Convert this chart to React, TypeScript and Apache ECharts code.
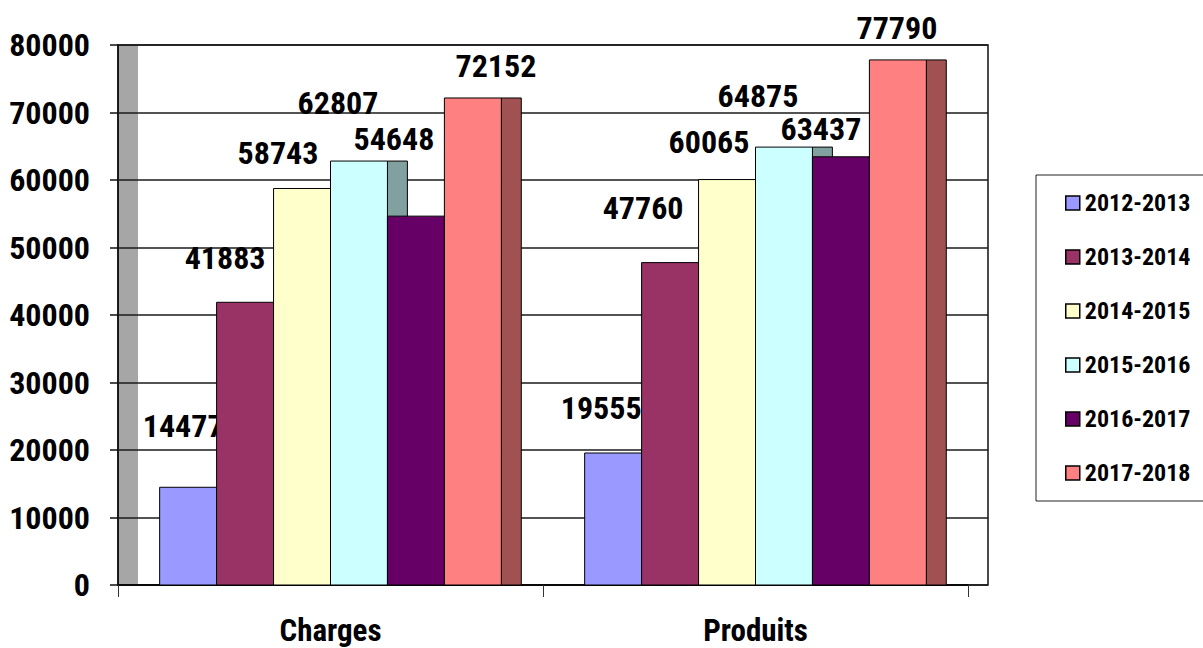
import React, { useEffect, useRef } from "react";
import * as echarts from "echarts";

const categories = ["Charges", "Produits"];
const seriesNames = ["2012-2013", "2013-2014", "2014-2015", "2015-2016", "2016-2017", "2017-2018"];
const chargesValues = [14477, 41883, 58743, 62807, 54648, 72152];
const produitsValues = [19555, 47760, 60065, 64875, 63437, 77790];
const yMin = 0;
const yMax = 80000;
const yInterval = 10000;

const colors = ["#9999ff", "#993366", "#ffffcc", "#ccffff", "#660066", "#ff8080"];
// label placement (px offsets from each bar's front top centre), per series, per category
const labelDx = [[-5, -12], [-20, -27], [-24, -18], [-21, -26], [-22, -20], [23, -1]];
const labelDy = [[61, 45], [44, 55], [35, 38], [58, 51], [77, 28], [32, 32]];

const FONT = "'Liberation Sans Narrow', 'Arial Narrow', 'Roboto Condensed', sans-serif";

const GRID_LEFT = 118;
const GRID_TOP = 45;
const GRID_BOTTOM = 63;
const WALL_RIGHT = 215;
const BARS_RIGHT = 235;

function darken(hex: string, f: number): string {
  const n = parseInt(hex.slice(1), 16);
  const r = Math.round(((n >> 16) & 255) * f);
  const g = Math.round(((n >> 8) & 255) * f);
  const b = Math.round((n & 255) * f);
  return "rgb(" + r + "," + g + "," + b + ")";
}

export default function App() {
  const ref = useRef<HTMLDivElement>(null);
  useEffect(() => {
    if (!ref.current) return;
    const chart = echarts.init(ref.current, null, { renderer: "svg" });
    const barSeries = seriesNames.map((name, sIdx) => ({
      type: "custom",
      name,
      xAxisIndex: 1,
      yAxisIndex: 1,
      z: 3,
      itemStyle: { color: colors[sIdx] },
      encode: { x: 0, y: 1 },
      data: [
        [0, chargesValues[sIdx]],
        [1, produitsValues[sIdx]],
      ],
      renderItem: (params: any, api: any) => {
        const cat = api.value(0);
        const val = api.value(1);
        const top = api.coord([cat, val]);
        const base = api.coord([cat, 0]);
        const band = api.size([1, 0])[0];
        const barW = band * 0.134;
        const total = barW * seriesNames.length;
        const x = top[0] - total / 2 + sIdx * barW;
        const sideW = barW * 0.35;
        const h = base[1] - top[1];
        return {
          type: "group",
          children: [
            {
              type: "rect",
              shape: { x: x + barW, y: top[1], width: sideW, height: h },
              style: { fill: darken(colors[sIdx], 0.63), stroke: "#000", lineWidth: 1 },
            },
            {
              type: "rect",
              shape: { x, y: top[1], width: barW, height: h },
              style: { fill: colors[sIdx], stroke: "#000", lineWidth: 1 },
            },
            {
              type: "text",
              x: x + barW / 2 + labelDx[sIdx][cat],
              y: top[1] - labelDy[sIdx][cat],
              style: {
                text: String(val),
                fill: "#000",
                fontSize: 32,
                fontWeight: "bold",
                fontFamily: FONT,
                align: "center",
                verticalAlign: "middle",
              },
            },
          ],
        };
      },
    }));

    const wallSeries = {
      type: "custom",
      name: "wall",
      xAxisIndex: 0,
      yAxisIndex: 0,
      z: -1,
      silent: true,
      data: [[0, yMax]],
      renderItem: (params: any, api: any) => {
        const cs = params.coordSys;
        return {
          type: "rect",
          shape: { x: cs.x, y: cs.y, width: 20, height: cs.height },
          style: { fill: "#a6a6a6" },
        };
      },
    };

    chart.setOption({
      animation: false,
      backgroundColor: "#fff",
      grid: [
        {
          left: GRID_LEFT,
          right: WALL_RIGHT,
          top: GRID_TOP,
          bottom: GRID_BOTTOM,
          show: true,
          borderColor: "#111",
          borderWidth: 1.5,
          backgroundColor: "transparent",
        },
        { left: GRID_LEFT, right: BARS_RIGHT, top: GRID_TOP, bottom: GRID_BOTTOM },
      ],
      xAxis: [
        { gridIndex: 0, type: "value", show: false, min: 0, max: 1 },
        {
          gridIndex: 1,
          type: "category",
          data: categories,
          axisLine: { show: true, lineStyle: { color: "#000", width: 1.5 } },
          axisTick: { show: true, alignWithLabel: false, length: 12, lineStyle: { color: "#333", width: 1 } },
          axisLabel: {
            fontSize: 31,
            fontWeight: "bold",
            fontFamily: FONT,
            color: "#000",
            margin: 30,
          },
          splitLine: { show: false },
        },
      ],
      yAxis: [
        {
          gridIndex: 0,
          type: "value",
          min: yMin,
          max: yMax,
          interval: yInterval,
          axisLine: { show: true, lineStyle: { color: "#111", width: 1.5 } },
          axisTick: { show: true, length: 8, lineStyle: { color: "#111", width: 1.5 } },
          axisLabel: {
            fontSize: 32,
            fontWeight: "bold",
            fontFamily: FONT,
            color: "#000",
            margin: 28,
            formatter: (v: number) => String(v),
          },
          splitLine: { show: true, lineStyle: { color: "#1a1a1a", width: 1.5 } },
        },
        { gridIndex: 1, type: "value", min: yMin, max: yMax, interval: yInterval, show: false, splitLine: { show: false } },
      ],
      legend: {
        orient: "vertical",
        left: 1036,
        top: 175,
        padding: [15, 40, 15, 29],
        itemGap: 28,
        itemWidth: 14,
        itemHeight: 14,
        borderColor: "#222",
        borderWidth: 1,
        textStyle: { fontSize: 24, fontWeight: "bold", fontFamily: FONT, color: "#000", lineHeight: 26 },
        data: seriesNames.map((n, i) => ({
          name: n,
          icon: "rect",
          itemStyle: { color: colors[i], borderColor: "#000", borderWidth: 1.5 },
        })),
      },
      series: [wallSeries, ...barSeries],
    });
    return () => chart.dispose();
  }, []);
  return (
    <div
      ref={ref}
      style={{ position: "fixed", left: 0, top: 0, width: 1203, height: 648 }}
    />
  );
}
